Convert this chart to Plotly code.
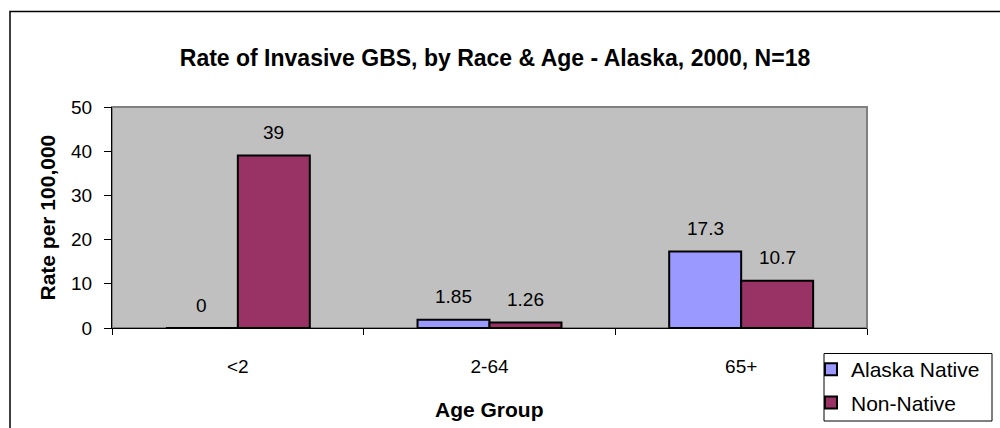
import plotly.graph_objects as go

categories = ["<2", "2-64", "65+"]
native = [0, 1.85, 17.3]
non_native = [39, 1.26, 10.7]
native_labels = ["0", "1.85", "17.3"]
non_native_labels = ["39", "1.26", "10.7"]
y_ticks = [0, 10, 20, 30, 40, 50]

W, H = 1000, 428
L, R, T, B = 112, 867, 107, 328
pw, ph = R - L, B - T

def px_x(v):
    return (v - L) / pw

def px_y(v):
    return (B - v) / ph

FONT = "Liberation Sans, Arial, sans-serif"

fig = go.Figure()
fig.add_trace(go.Bar(x=categories, y=native, name="Alaska Native",
                     marker=dict(color="#9999FF", line=dict(color="black", width=2)),
                     legendgroup="a"))
fig.add_trace(go.Bar(x=categories, y=non_native, name="Non-Native",
                     marker=dict(color="#993366", line=dict(color="black", width=2)),
                     legendgroup="b"))

annotations = []
for cat, v, t in zip(categories, native, native_labels):
    annotations.append(dict(x=cat, y=v, xref="x", yref="y", text=t, showarrow=False,
                            xshift=-36, yshift=23, xanchor="center", yanchor="middle",
                            font=dict(size=19, color="black", family=FONT)))
for cat, v, t in zip(categories, non_native, non_native_labels):
    annotations.append(dict(x=cat, y=v, xref="x", yref="y", text=t, showarrow=False,
                            xshift=36, yshift=23, xanchor="center", yanchor="middle",
                            font=dict(size=19, color="black", family=FONT)))
annotations.append(dict(x=px_x(47), y=0.5, xref="paper", yref="paper",
                        text="<b>Rate per 100,000</b>", textangle=-90, showarrow=False,
                        xanchor="center", yanchor="middle",
                        font=dict(size=21, color="black", family=FONT)))
annotations.append(dict(x=px_x(489), y=px_y(409), xref="paper", yref="paper",
                        text="<b>Age Group</b>", showarrow=False,
                        xanchor="center", yanchor="middle",
                        font=dict(size=21, color="black", family=FONT)))

shapes = [
    # plot area border
    dict(type="rect", xref="paper", yref="paper", x0=0, x1=1, y0=0, y1=1,
         line=dict(color="#808080", width=2), layer="below"),
    # outer chart border
    dict(type="rect", xref="paper", yref="paper", x0=px_x(10), x1=px_x(1010),
         y0=px_y(440), y1=px_y(11.5), line=dict(color="black", width=1.5),
         fillcolor="rgba(0,0,0,0)", layer="above"),
    # legend box
    dict(type="rect", xref="paper", yref="paper", x0=px_x(824), x1=px_x(992),
         y0=px_y(421), y1=px_y(353.5), line=dict(color="black", width=1),
         fillcolor="white", layer="above"),
]

fig.update_layout(
    width=W, height=H,
    margin=dict(l=L, r=W - R, t=T, b=H - B, autoexpand=False),
    paper_bgcolor="white", plot_bgcolor="#C0C0C0",
    barmode="group", bargap=0.428, bargroupgap=0,
    font=dict(family=FONT, color="black", size=19),
    title=dict(text="<b>Rate of Invasive GBS, by Race & Age - Alaska, 2000, N=18</b>",
               x=px_x(495), xref="paper", xanchor="center",
               y=1 - 58 / H, yref="container", yanchor="middle",
               font=dict(size=23, color="black", family=FONT)),
    xaxis=dict(type="category", showgrid=False, showline=True, linecolor="black", linewidth=1,
               ticks="outside", tickson="boundaries", ticklen=6, tickcolor="black",
               ticklabelstandoff=21, tickfont=dict(size=19)),
    yaxis=dict(range=[0, 50], tickvals=y_ticks, showgrid=False, zeroline=False,
               showline=True, linecolor="black", linewidth=1,
               ticks="outside", ticklen=7, tickcolor="black",
               ticklabelstandoff=8, tickfont=dict(size=19)),
    showlegend=True,
    legend=dict(x=px_x(811), y=px_y(349), xref="paper", yref="paper",
                xanchor="left", yanchor="top", bgcolor="rgba(0,0,0,0)", borderwidth=0,
                tracegroupgap=3, font=dict(size=21, color="black", family=FONT)),
    annotations=annotations,
    shapes=shapes,
)

fig.write_html("out.html", config={"displayModeBar": False},
               post_script="document.body.style.margin='0';")
